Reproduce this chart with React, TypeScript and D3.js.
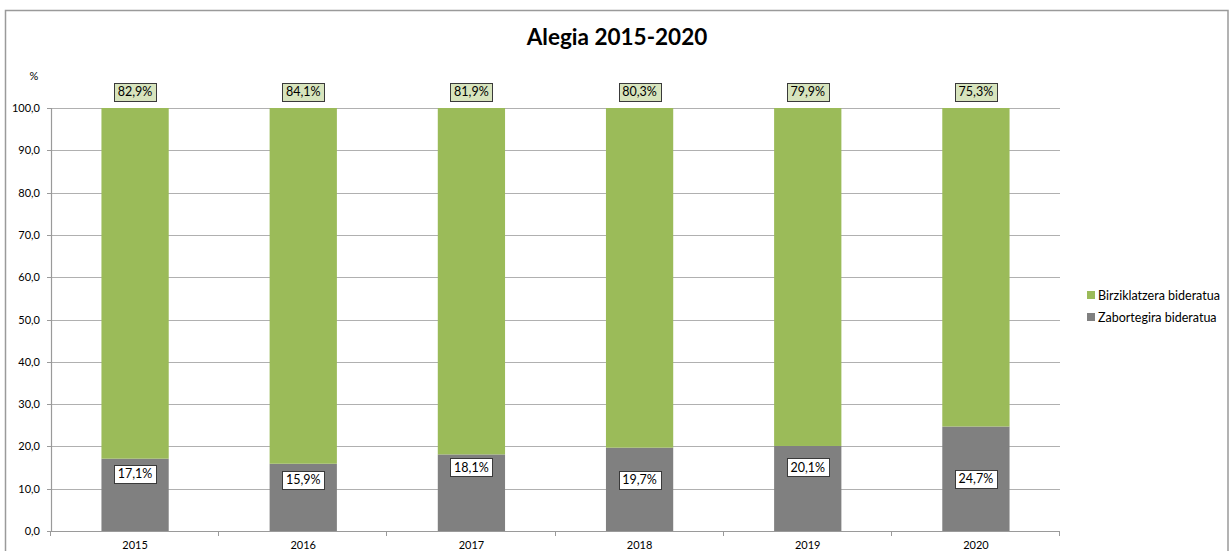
import React, { useEffect, useRef } from "react";
import * as d3 from "d3";

const years = ["2015", "2016", "2017", "2018", "2019", "2020"];
const zabortegi = [17.1, 15.9, 18.1, 19.7, 20.1, 24.7];
const birziklatze = [82.9, 84.1, 81.9, 80.3, 79.9, 75.3];
const greyLabelAt = [13.5, 12.1, 15.1, 12.1, 15.1, 12.3];
const greenLabelAt = [103.8, 103.8, 103.8, 103.8, 103.8, 103.8];
const yTicks = [0, 10, 20, 30, 40, 50, 60, 70, 80, 90, 100];
const seriesNames = ["Birziklatzera bideratua", "Zabortegira bideratua"];

const W = 1230;
const H = 551;
const FONT = "Lato, 'Open Sans', sans-serif";

const fmt = (v: number) => v.toFixed(1).replace(".", ",");

export default function App() {
  const ref = useRef<SVGSVGElement>(null);

  useEffect(() => {
    const svg = d3.select(ref.current!);
    svg.selectAll("*").remove();

    const left = 51, right = 1060, top = 108, bottom = 531;
    const x = d3.scaleBand<string>().domain(years).range([left, right]).paddingInner(0.6).paddingOuter(0.3);
    const xb = d3.scaleBand<string>().domain(years).range([left, right]);
    const y = d3.scaleLinear().domain([0, 100]).range([bottom, top]);

    // outer border
    svg.append("rect").attr("x", 5.5).attr("y", 10.5).attr("width", 1222.5).attr("height", 560)
      .attr("fill", "#fff").attr("stroke", "#9a9a9a").attr("stroke-width", 1.5);

    // title
    svg.append("text").attr("x", 617).attr("y", 45).attr("text-anchor", "middle")
      .attr("font-family", FONT).attr("font-weight", "bold").attr("font-size", 22.5)
      .attr("fill", "#000").text("Alegia 2015-2020");

    // gridlines
    svg.append("g").selectAll("line").data(yTicks.filter(t => t > 0)).join("line")
      .attr("x1", left).attr("x2", right)
      .attr("y1", d => Math.round(y(d)) + 0.5).attr("y2", d => Math.round(y(d)) + 0.5)
      .attr("stroke", "#b0b0b0").attr("stroke-width", 1);

    // y axis
    const yAxis = svg.append("g");
    yAxis.append("line").attr("x1", left + 0.5).attr("x2", left + 0.5).attr("y1", top).attr("y2", bottom)
      .attr("stroke", "#9a9a9a").attr("stroke-width", 1.2);
    yAxis.selectAll("line.t").data(yTicks).join("line").attr("class", "t")
      .attr("x1", left - 4).attr("x2", left)
      .attr("y1", d => Math.round(y(d)) + 0.5).attr("y2", d => Math.round(y(d)) + 0.5)
      .attr("stroke", "#9a9a9a");
    yAxis.selectAll("text").data(yTicks).join("text")
      .attr("x", 40).attr("y", d => y(d) + 4).attr("text-anchor", "end")
      .attr("font-family", FONT).attr("font-size", 11).attr("fill", "#000").text(d => fmt(d));
    svg.append("text").attr("x", 34).attr("y", 80).attr("text-anchor", "middle")
      .attr("font-family", FONT).attr("font-size", 11).attr("fill", "#000").text("%");

    // bars
    const g = svg.append("g");
    years.forEach((yr, i) => {
      const bx = x(yr)!;
      const bw = x.bandwidth();
      g.append("rect").attr("x", bx).attr("width", bw)
        .attr("y", y(zabortegi[i])).attr("height", y(0) - y(zabortegi[i])).attr("fill", "#808080");
      g.append("rect").attr("x", bx).attr("width", bw)
        .attr("y", y(zabortegi[i] + birziklatze[i])).attr("height", y(zabortegi[i]) - y(zabortegi[i] + birziklatze[i]))
        .attr("fill", "#9bbb59");
    });

    // x axis
    svg.append("line").attr("x1", left).attr("x2", right).attr("y1", bottom + 0.5).attr("y2", bottom + 0.5)
      .attr("stroke", "#9a9a9a").attr("stroke-width", 1.2);
    const bounds = years.map(yr => xb(yr)!).concat([right]);
    svg.append("g").selectAll("line").data(bounds).join("line")
      .attr("x1", d => Math.round(d) - 0.5).attr("x2", d => Math.round(d) - 0.5)
      .attr("y1", bottom).attr("y2", bottom + 5).attr("stroke", "#9a9a9a");
    svg.append("g").selectAll("text").data(years).join("text")
      .attr("x", d => xb(d)! + xb.bandwidth() / 2).attr("y", 549).attr("text-anchor", "middle")
      .attr("font-family", FONT).attr("font-size", 11).attr("fill", "#000").text(d => d);

    // data labels
    const addLabel = (cx: number, cy: number, txt: string, fill: string) => {
      const lg = svg.append("g");
      const rect = lg.append("rect");
      const t = lg.append("text").attr("x", cx).attr("y", cy + 4.5).attr("text-anchor", "middle")
        .attr("font-family", FONT).attr("font-size", 12.5).attr("fill", "#000").text(txt);
      const tw = (t.node() as SVGTextElement).getComputedTextLength();
      const w = Math.round(tw + 7);
      rect.attr("x", Math.round(cx - w / 2) + 0.5).attr("y", Math.round(cy - 9) + 0.5)
        .attr("width", w).attr("height", 18).attr("fill", fill)
        .attr("stroke", "#3a3a3a").attr("stroke-width", 1);
    };
    years.forEach((yr, i) => {
      const cx = x(yr)! + x.bandwidth() / 2;
      addLabel(cx, y(greenLabelAt[i]), fmt(birziklatze[i]) + "%", "#d7e4bd");
      addLabel(cx, y(greyLabelAt[i]), fmt(zabortegi[i]) + "%", "#ffffff");
    });

    // legend
    const colors = ["#9bbb59", "#808080"];
    const lg = svg.append("g");
    seriesNames.forEach((n, i) => {
      const ly = 295 + i * 22;
      lg.append("rect").attr("x", 1087).attr("y", ly - 4).attr("width", 8).attr("height", 8).attr("fill", colors[i]);
      lg.append("text").attr("x", 1098).attr("y", ly + 4.5).attr("font-family", FONT).attr("font-size", 12.5)
        .attr("fill", "#000").text(n);
    });
  }, []);

  return (
    <svg ref={ref} width={W} height={H}
      style={{ position: "absolute", left: 0, top: 0, display: "block", background: "#fff" }} />
  );
}
